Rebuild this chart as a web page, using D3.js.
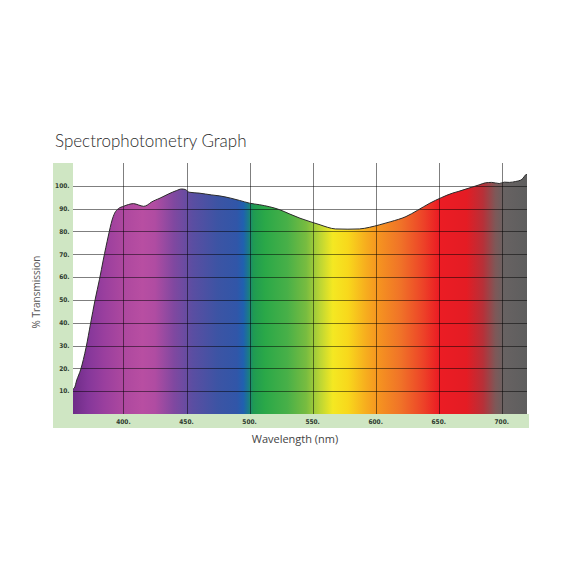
<!DOCTYPE html>
<html><head><meta charset="utf-8">
<script src="https://cdn.jsdelivr.net/npm/d3@7"></script>
<style>html,body{margin:0;padding:0;background:#fff;}</style>
</head><body>
<script>
const titleText = "Spectrophotometry Graph";
const xLabel = "Wavelength (nm)";
const yLabel = "% Transmission";
const xTicks = [400, 450, 500, 550, 600, 650, 700];
const yTicks = [10, 20, 30, 40, 50, 60, 70, 80, 90, 100];
const wavelength = [360, 361, 363, 366, 370.5, 374, 377.5, 381, 384, 388, 391, 393, 396, 400, 404, 408, 412, 416, 419, 422, 429, 436, 442, 446, 449, 452, 460, 470, 476, 485, 492, 500, 508, 516, 524, 532, 540, 548, 556, 562, 568, 578, 587, 595, 603, 612, 624, 633, 643, 652, 661, 666, 674, 682, 687, 692, 698, 702, 706, 711, 715, 717, 718.5, 720];
const transmission = [11, 11.3, 14.9, 19.3, 29.5, 39.8, 50, 59, 67.5, 78, 85, 88, 90, 91, 91.8, 92.2, 91.6, 91.0, 91.6, 92.8, 94.6, 96.5, 97.9, 98.6, 98.4, 97.2, 96.8, 96.0, 95.6, 94.6, 93.6, 92.4, 91.7, 90.8, 89.5, 87.6, 85.8, 84.3, 82.9, 81.8, 81.1, 81.0, 81.1, 81.8, 82.9, 84.3, 86.5, 89.2, 92.4, 94.8, 96.8, 97.6, 99.0, 100.4, 101.3, 101.5, 101.0, 101.6, 101.5, 101.9, 102.5, 103.4, 104.6, 105];
const spectrumNm = [360, 372, 385, 400, 415, 425, 440, 455, 475, 490, 495, 499, 503, 512, 530, 545, 556, 566, 578, 592, 602, 620, 638, 650, 672, 685, 695, 702, 720];
const spectrumColor = ["#6e2c88", "#85379a", "#9a3f9e", "#ad489f", "#b84ea2", "#b04ca2", "#8048a0", "#5a4ea2", "#3c54a4", "#3156a8", "#2060b0", "#1a7a8a", "#1f9a52", "#2aa848", "#48b048", "#78bc40", "#bcd634", "#f4e822", "#f8d81c", "#f7ae1e", "#f59420", "#f07228", "#ed4228", "#ec1c24", "#e41c24", "#b83038", "#7e5858", "#676262", "#5e5e5e"];

const W = 576, H = 576;
const svg = d3.select("body").append("svg").attr("width", W).attr("height", H)
  .style("background", "#fff");

const x = d3.scaleLinear().domain([360, 720]).range([73, 527]);
const y = d3.scaleLinear().domain([0, 110]).range([414, 163]);

// green label panel (L shape)
const green = "#cfe6c3";
svg.append("rect").attr("x", 53).attr("y", y(110)).attr("width", x(360) - 53).attr("height", 428 - y(110)).attr("fill", green);
svg.append("rect").attr("x", 53).attr("y", y(0)).attr("width", 529 - 53).attr("height", 428 - y(0)).attr("fill", green);

// gradient
const defs = svg.append("defs");
const grad = defs.append("linearGradient").attr("id", "spec").attr("gradientUnits", "userSpaceOnUse")
  .attr("x1", x(360)).attr("x2", x(720)).attr("y1", 0).attr("y2", 0);
spectrumNm.forEach((nm, i) => {
  grad.append("stop").attr("offset", (nm - 360) / 360).attr("stop-color", spectrumColor[i]);
});

const data = wavelength.map((w, i) => ({w, t: transmission[i]}));
const area = d3.area().x(d => x(d.w)).y0(y(0)).y1(d => y(d.t)).curve(d3.curveMonotoneX);
const line = d3.line().x(d => x(d.w)).y(d => y(d.t)).curve(d3.curveMonotoneX);

svg.append("path").datum(data).attr("d", area).attr("fill", "url(#spec)");

// grid
const grid = svg.append("g").attr("stroke", "rgba(0,0,0,0.5)").attr("stroke-width", 1);
xTicks.forEach(v => grid.append("line").attr("x1", Math.round(x(v)) + 0.5).attr("x2", Math.round(x(v)) + 0.5).attr("y1", y(110)).attr("y2", y(0)));
yTicks.forEach(v => grid.append("line").attr("x1", x(360)).attr("x2", x(720)).attr("y1", Math.round(y(v)) + 0.5).attr("y2", Math.round(y(v)) + 0.5));

svg.append("path").datum(data).attr("d", line).attr("fill", "none").attr("stroke", "#2a2a2a").attr("stroke-width", 1);

// tick labels
const tickFont = "'DejaVu Sans Condensed', 'DejaVu Sans', sans-serif";
svg.append("g").selectAll("text").data(yTicks).join("text")
  .attr("x", 69.5).attr("y", d => y(d)).attr("dy", "0.35em")
  .attr("text-anchor", "end").attr("font-family", tickFont).attr("font-weight", "bold")
  .attr("font-size", 6.5).attr("fill", "#2e3a2e").text(d => d + ".");
svg.append("g").selectAll("text").data(xTicks).join("text")
  .attr("x", d => x(d)).attr("y", 421.5).attr("dy", "0.35em")
  .attr("text-anchor", "middle").attr("font-family", tickFont).attr("font-weight", "bold")
  .attr("font-size", 6.5).attr("fill", "#2e3a2e").text(d => d + ".");

// title & axis labels
svg.append("text").attr("x", 55).attr("y", 147).attr("font-family", "Lato, 'Open Sans', sans-serif")
  .attr("font-weight", 300).attr("font-size", 17).attr("fill", "#2b2b2b").text(titleText);
svg.append("text").attr("x", 295).attr("y", 443).attr("text-anchor", "middle")
  .attr("font-family", "'Open Sans', sans-serif").attr("font-size", 11).attr("fill", "#444").text(xLabel);
svg.append("text").attr("transform", "translate(40,292) rotate(-90)").attr("text-anchor", "middle")
  .attr("font-family", "'Open Sans', sans-serif").attr("font-size", 10).attr("fill", "#555").text(yLabel);
</script>
</body></html>
